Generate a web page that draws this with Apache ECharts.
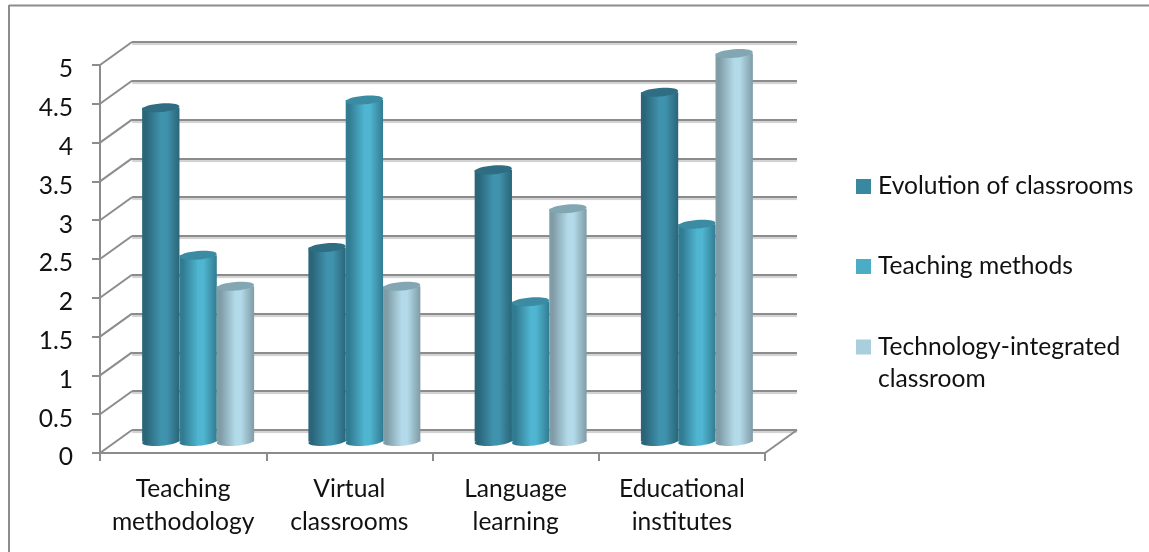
<!DOCTYPE html>
<html><head><meta charset="utf-8">
<style>html,body{margin:0;padding:0;background:#fff}#c{width:1149px;height:552px}</style>
<script src="https://cdn.jsdelivr.net/npm/echarts@6/dist/echarts.min.js"></script>
</head><body><div id="c"></div>
<script>
const categories = ['Teaching\nmethodology','Virtual\nclassrooms','Language\nlearning','Educational\ninstitutes'];
const evolution = [4.3,2.5,3.5,4.5];
const methods = [2.4,4.4,1.8,2.8];
const integrated = [2,2,3,5];
const seriesNames = ['Evolution of classrooms','Teaching methods','Technology-integrated classroom'];
const yTicks = [0,0.5,1,1.5,2,2.5,3,3.5,4,4.5,5];

const DEPTH_X = 32, DEPTH_Y = -23;
const font = 'Lato, "Open Sans", sans-serif';
const FS = 24.6;
const palette = [
 {legend:'#3a87a0', edge:'#2a6579', mid:'#4093ad', top:'#2f6d82'},
 {legend:'#4bacc6', edge:'#327c92', mid:'#4fb5d0', top:'#3b8ba2'},
 {legend:'#a9cfdd', edge:'#7f9ca7', mid:'#b3dae9', top:'#83a6b3'}
];
function cyl(idx){
  const p = palette[idx];
  return function(params, api){
    const c = api.coord([api.value(0), api.value(1)]);
    const base = api.coord([api.value(0), 0]);
    const band = api.size([1,0])[0];
    const w = band*0.2245;
    const cx = c[0] + DEPTH_X/2 - 1 + (idx-1)*w;
    const yTop = c[1] + DEPTH_Y/2;
    const yBot = base[1] + DEPTH_Y/2;
    const rx = w/2, ry = 4.3, rot = 0.08;
    const grad = new echarts.graphic.LinearGradient(0,0,1,0,[
      {offset:0,color:p.edge},{offset:0.1,color:p.edge},{offset:0.5,color:p.mid},{offset:0.65,color:p.mid},{offset:1,color:p.edge}]);
    return {type:'group',children:[
      {type:'ellipse',shape:{cx:0,cy:0,rx:rx,ry:ry},x:cx,y:yBot,rotation:rot,style:{fill:grad}},
      {type:'rect',shape:{x:cx-rx,y:yTop,width:w,height:yBot-yTop},style:{fill:grad}},
      {type:'ellipse',shape:{cx:0,cy:0,rx:rx,ry:ry},x:cx,y:yTop,rotation:rot,style:{fill:p.top}}
    ]};
  };
}
function wallRender(params, api){
  const v = api.value(0);
  const a = api.coord([0, v]);
  const left = a[0] - api.size([1,0])[0]/2;
  return {type:'line',shape:{x1:left,y1:a[1],x2:left+DEPTH_X,y2:a[1]+DEPTH_Y},
    style:{stroke:'#8c8c8c',lineWidth:2}};
}
function floorRender(params, api){
  const a = api.coord([3, 0]);
  const right = a[0] + api.size([1,0])[0]/2;
  return {type:'line',shape:{x1:right,y1:a[1],x2:right+DEPTH_X,y2:a[1]+DEPTH_Y},
    style:{stroke:'#8c8c8c',lineWidth:2}};
}
const seriesData = [evolution, methods, integrated];
const square = 'path://M0,0L15,0L15,15L0,15ZM0,47L0,47';
const option = {
  animation:false,
  backgroundColor:'#fff',
  textStyle:{fontFamily:font},
  grid:[
    {left:100,width:665,top:65,height:388},
    {left:132,width:665,top:42,height:388}
  ],
  xAxis:[
    {type:'category',gridIndex:0,data:categories,boundaryGap:true,
     axisLine:{lineStyle:{color:'#8c8c8c',width:2}},
     axisTick:{show:true,alignWithLabel:false,length:8,lineStyle:{color:'#8c8c8c',width:2}},
     axisLabel:{color:'#111',fontSize:FS,fontFamily:font,lineHeight:33,margin:20,interval:0}},
    {type:'category',gridIndex:1,data:categories,show:false}
  ],
  yAxis:[
    {type:'value',gridIndex:0,min:0,max:5,interval:0.5,
     axisLine:{show:true,lineStyle:{color:'#8c8c8c',width:2}},
     axisTick:{show:true,length:8,lineStyle:{color:'#8c8c8c',width:2}},
     splitLine:{show:false},
     axisLabel:{color:'#111',fontSize:FS,fontFamily:font,margin:27,verticalAlign:'top',lineHeight:9,
       formatter:v=>String(v)}},
    {type:'value',gridIndex:1,min:0,max:5,interval:0.5,
     axisLine:{show:false},axisTick:{show:false},axisLabel:{show:false},
     splitLine:{show:true,lineStyle:{color:'#8c8c8c',width:2,shadowColor:'#cfcfcf',shadowBlur:1,shadowOffsetY:2}}}
  ],
  legend:[
    {orient:'vertical',left:856,top:174,padding:0,itemWidth:15,itemHeight:15,itemGap:55,icon:'rect',
     data:seriesNames.slice(0,2),
     textStyle:{color:'#111',fontSize:FS,fontFamily:font,lineHeight:15,padding:[0,0,0,2]}},
    {orient:'vertical',left:856,top:331,padding:0,itemWidth:15,itemHeight:47,
     data:[{name:seriesNames[2],icon:square}],
     formatter:()=>'Technology-integrated\nclassroom',
     textStyle:{color:'#111',fontSize:FS,fontFamily:font,lineHeight:32,padding:[0,0,0,2]}}
  ],
  graphic:[
    {type:'line',shape:{x1:9,y1:5.5,x2:1149,y2:5.5},style:{stroke:'#8c8c8c',lineWidth:2},silent:true},
    {type:'line',shape:{x1:9,y1:5,x2:9,y2:552},style:{stroke:'#8c8c8c',lineWidth:2},silent:true}
  ],
  series:[
    {type:'custom',name:'walls',xAxisIndex:0,yAxisIndex:0,z:1,silent:true,renderItem:wallRender,
      encode:{y:0},data:yTicks.map(v=>[v])},
    {type:'custom',name:'floor',xAxisIndex:0,yAxisIndex:0,z:1,silent:true,renderItem:floorRender,
      data:[[0]]},
    ...seriesNames.map((n,i)=>({
      type:'custom',name:n,xAxisIndex:0,yAxisIndex:0,z:3+i,
      renderItem:cyl(i),itemStyle:{color:palette[i].legend},
      encode:{x:0,y:1},
      data:seriesData[i].map((v,k)=>[k,v])
    }))
  ]
};
const chart = echarts.init(document.getElementById('c'),null,{renderer:'canvas'});
chart.setOption(option);
</script></body></html>
